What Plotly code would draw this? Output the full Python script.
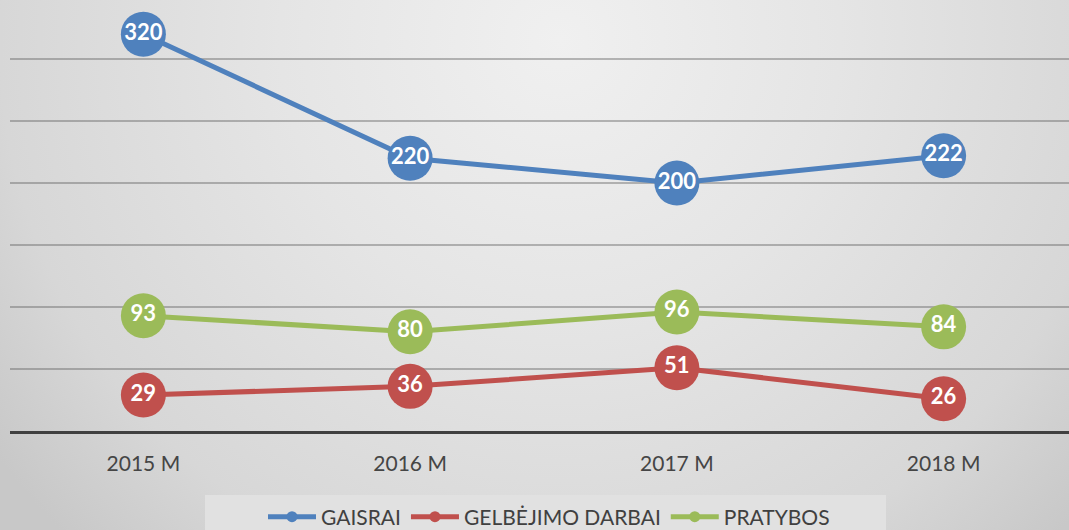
import base64
import plotly.graph_objects as go

categories = ["2015 M", "2016 M", "2017 M", "2018 M"]
gaisrai = [320, 220, 200, 222]
gelbejimo = [29, 36, 51, 26]
pratybos = [93, 80, 96, 84]
series_names = ["GAISRAI", "GELBĖJIMO DARBAI", "PRATYBOS"]
series_values = [gaisrai, gelbejimo, pratybos]
series_colors = ["#4f81bd", "#c0504d", "#9bbb59"]
y_ticks = [0, 50, 100, 150, 200, 250, 300]

W, H = 1069, 530
ML, MR, MT, MB = 10, 0, 0, 99
PW, PH = W - ML - MR, H - MT - MB

svg = f'''<svg xmlns="http://www.w3.org/2000/svg" width="{W}" height="{H}">
<defs><radialGradient id="g" gradientUnits="userSpaceOnUse" cx="560" cy="40" r="700">
<stop offset="0" stop-color="#f0f0f0"/><stop offset="0.4" stop-color="#e5e5e5"/>
<stop offset="0.8" stop-color="#d7d7d7"/><stop offset="1" stop-color="#c8c8c8"/>
</radialGradient></defs><rect width="{W}" height="{H}" fill="url(#g)"/></svg>'''
bg_uri = "data:image/svg+xml;base64," + base64.b64encode(svg.encode()).decode()

fig = go.Figure()
for name, vals, col in zip(series_names, series_values, series_colors):
    fig.add_trace(go.Scatter(
        x=categories, y=vals, mode="lines+markers+text", name=name,
        text=[str(v) for v in vals], textposition="middle center",
        textfont=dict(family="Lato", size=22, color="white", weight="bold"),
        line=dict(color=col, width=5),
        marker=dict(size=45, color=col, line=dict(width=0)),
        showlegend=False, cliponaxis=False, hoverinfo="skip"))
for name, col in zip(series_names, series_colors):
    fig.add_trace(go.Scatter(
        x=[None], y=[None], mode="lines+markers", name=name,
        line=dict(color=col, width=5), marker=dict(size=11, color=col),
        showlegend=True))

fig.add_layout_image(dict(
    source=bg_uri, xref="paper", yref="paper",
    x=-ML / PW, y=1 + MT / PH, sizex=W / PW, sizey=H / PH,
    xanchor="left", yanchor="top", sizing="stretch", layer="below"))

fig.add_shape(type="rect", xref="paper", yref="paper",
              x0=(205 - ML) / PW, x1=(886 - ML) / PW,
              y0=-(H - MT - PH + 5) / PH, y1=-(495 - MT - PH) / PH,
              fillcolor="#e1e1e1", line=dict(width=0), layer="below")

fig.update_layout(
    width=W, height=H,
    margin=dict(l=ML, r=MR, t=MT, b=MB, autoexpand=False),
    paper_bgcolor="#d8d8d8", plot_bgcolor="rgba(0,0,0,0)",
    font=dict(family="Lato", color="#404040"),
    legend=dict(orientation="h", x=(549 - ML) / PW, xanchor="center",
                y=-(517 - MT - PH) / PH, yanchor="middle",
                bgcolor="rgba(0,0,0,0)", font=dict(size=21, color="#404040"),
                itemwidth=48),
    xaxis=dict(range=[-0.5, 3.47], showgrid=False, showline=True,
               linecolor="#404040", linewidth=3, ticks="",
               tickfont=dict(size=21, color="#454545"),
               ticklabelstandoff=12, fixedrange=True),
    yaxis=dict(range=[0, 347.6], tickvals=y_ticks, showticklabels=False,
               showgrid=True, gridcolor="rgba(95,95,95,0.42)", gridwidth=1.5,
               zeroline=False, showline=False, fixedrange=True),
)
fig.write_html("out.html", config={"displayModeBar": False},
               post_script="document.body.style.margin='0';document.body.style.padding='0';document.body.style.overflow='hidden';")
